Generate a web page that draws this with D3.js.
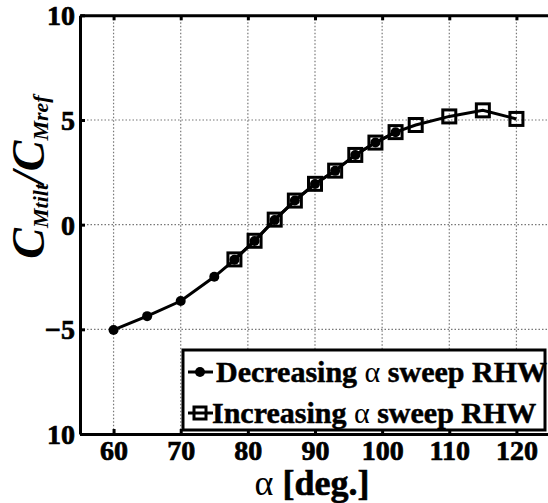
<!DOCTYPE html>
<html><head><meta charset="utf-8">
<script src="https://cdn.jsdelivr.net/npm/d3@7"></script>
<style>body{margin:0;background:#fff}svg{display:block}</style>
</head><body>
<svg id="c" width="548" height="503"></svg>
<script>
const decAlpha = [60,65,70,75,78,81,84,87,90,93,96,99,102];
const decVal   = [-5.03,-4.37,-3.65,-2.49,-1.68,-0.78,0.22,1.15,1.94,2.57,3.33,3.92,4.41];
const incAlpha = [78,81,84,87,90,93,96,99,102,105,110,115,120];
const incVal   = [-1.66,-0.77,0.24,1.15,1.95,2.58,3.33,3.92,4.42,4.76,5.17,5.46,5.05];
const xTicks = [60,70,80,90,100,110,120];
const yTicks = [-10,-5,0,5,10];
const yTickLabels = ["10","\u22125","0","5","10"];
const legendLabels = ["Decreasing ", " sweep RHW", "Increasing ", " sweep RHW"];

const svg = d3.select("#c");
const F = "'Liberation Serif','Times New Roman',serif";
const x = d3.scaleLinear().domain([55,125]).range([80,550]);
const y = d3.scaleLinear().domain([-10,10]).range([434,15.3]);

// grid
const g = svg.append("g");
g.selectAll(".vg").data(xTicks).join("line")
  .attr("x1",d=>x(d)).attr("x2",d=>x(d)).attr("y1",y(10)).attr("y2",y(-10))
  .attr("stroke","#777").attr("stroke-width",1.2).attr("stroke-dasharray","1.5,2");
g.selectAll(".hg").data([-5,0,5]).join("line")
  .attr("x1",x(55)).attr("x2",x(125)).attr("y1",d=>y(d)).attr("y2",d=>y(d))
  .attr("stroke","#777").attr("stroke-width",1.2).attr("stroke-dasharray","1.5,2");

// axes
const xb = svg.append("g").attr("transform",`translate(0,${y(-10)})`)
  .call(d3.axisBottom(x).tickValues(xTicks).tickSizeInner(-5).tickSizeOuter(0).tickPadding(6));
const xt = svg.append("g").attr("transform",`translate(0,${y(10)})`)
  .call(d3.axisTop(x).tickValues(xTicks).tickSizeInner(-5).tickSizeOuter(0).tickFormat(""));
const yl = svg.append("g").attr("transform",`translate(${x(55)},0)`)
  .call(d3.axisLeft(y).tickValues(yTicks).tickSizeInner(-5).tickSizeOuter(0).tickPadding(5)
    .tickFormat((d,i)=>yTickLabels[i]));
[xb,xt,yl].forEach(a=>{
  a.select(".domain").attr("stroke","#000").attr("stroke-width",3);
  a.selectAll(".tick line").attr("stroke","#000").attr("stroke-width",3);
  a.selectAll("text").attr("font-family",F).attr("font-weight","bold").attr("font-size",28)
    .attr("fill","#000").attr("stroke","#000").attr("stroke-width",0.7);
});
yl.selectAll("text").attr("dy","0.34em");
// right axis
svg.append("line").attr("x1",x(125)).attr("x2",x(125)).attr("y1",y(10)).attr("y2",y(-10))
  .attr("stroke","#000").attr("stroke-width",3);

// lines
const line = d3.line().x(d=>x(d[0])).y(d=>y(d[1]));
const dec = decAlpha.map((a,i)=>[a,decVal[i]]);
const inc = incAlpha.map((a,i)=>[a,incVal[i]]);
svg.append("path").datum(dec).attr("d",line).attr("fill","none").attr("stroke","#000").attr("stroke-width",3);
svg.append("path").datum(inc).attr("d",line).attr("fill","none").attr("stroke","#000").attr("stroke-width",3);
svg.selectAll(".dc").data(dec).join("circle")
  .attr("cx",d=>x(d[0])).attr("cy",d=>y(d[1])).attr("r",5).attr("fill","#000");
const S = 13;
svg.selectAll(".sq").data(inc).join("rect")
  .attr("x",d=>x(d[0])-S/2).attr("y",d=>y(d[1])-S/2).attr("width",S).attr("height",S)
  .attr("fill","none").attr("stroke","#000").attr("stroke-width",3);

// legend
const lg = svg.append("g");
lg.append("rect").attr("x",183).attr("y",350).attr("width",362).attr("height",80)
  .attr("fill","#fff").attr("stroke","#000").attr("stroke-width",3);
const rows = [{cy:372, t:[legendLabels[0],legendLabels[1]]},{cy:413, t:[legendLabels[2],legendLabels[3]]}];
rows.forEach((r,i)=>{
  lg.append("line").attr("x1",188).attr("x2",213).attr("y1",r.cy).attr("y2",r.cy)
    .attr("stroke","#000").attr("stroke-width",3);
  if(i===0) lg.append("circle").attr("cx",200).attr("cy",r.cy).attr("r",5).attr("fill","#000");
  else lg.append("rect").attr("x",194).attr("y",r.cy-6).attr("width",12).attr("height",12)
    .attr("fill","none").attr("stroke","#000").attr("stroke-width",3);
  const t = lg.append("text").attr("x",i===0?216:212).attr("y",r.cy+10)
    .attr("font-family",F).attr("font-size",30).attr("fill","#000");
  t.append("tspan").attr("font-weight","bold").attr("stroke","#000").attr("stroke-width",0.5).text(r.t[0]);
  t.append("tspan").attr("font-weight","normal").text("\u03b1");
  t.append("tspan").attr("font-weight","bold").attr("stroke","#000").attr("stroke-width",0.5).text(r.t[1]);
});

// x label
const xlab = svg.append("text").attr("x",312).attr("y",495).attr("text-anchor","middle")
  .attr("font-family",F).attr("font-size",36).attr("fill","#000");
xlab.append("tspan").attr("font-weight","normal").text("\u03b1 ");
xlab.append("tspan").attr("font-weight","bold").attr("stroke","#000").attr("stroke-width",0.6).text("[deg.]");

// y label
const ylab = svg.append("text").attr("transform","translate(44,177) rotate(-90)")
  .attr("text-anchor","middle").attr("font-family",F).attr("font-weight","bold")
  .attr("font-style","italic").attr("fill","#000");
ylab.append("tspan").attr("font-size",46).text("C");
ylab.append("tspan").attr("font-size",22).attr("dy",4).text("Mtilt");
ylab.append("tspan").attr("font-size",46).attr("dy",-4).text("/C");
ylab.append("tspan").attr("font-size",22).attr("dy",4).text("Mref");
</script>
</body></html>
